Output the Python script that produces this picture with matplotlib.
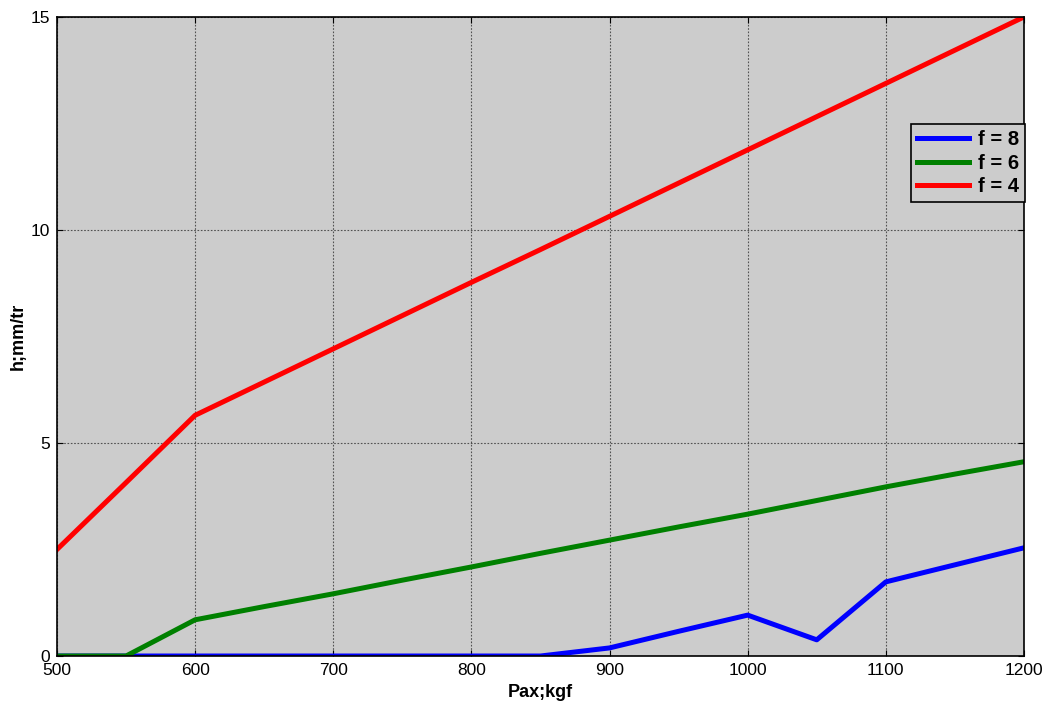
import numpy as np
import matplotlib.pyplot as plt

plt.rcParams['font.family'] = ['Liberation Sans', 'DejaVu Sans']

# axial load, kgf
pax = [500, 550, 600, 650, 700, 750, 800, 850, 900, 950, 1000, 1050, 1100, 1150, 1200]

# feed h (mm/rev) for each f
h_f8 = [0, 0, 0, 0, 0, 0, 0, 0, 0.19, 0.58, 0.96, 0.38, 1.74, 2.14, 2.54]
h_f6 = [0, 0, 0.85, 1.16, 1.46, 1.78, 2.09, 2.41, 2.72, 3.03, 3.33, 3.65, 3.97, 4.27, 4.56]
h_f4 = [2.5, 4.07, 5.65, 6.43, 7.21, 7.99, 8.77, 9.54, 10.32, 11.10, 11.88, 12.66, 13.44, 14.22, 15.0]

fig = plt.figure(figsize=(10.47, 7.06), dpi=100)
ax = fig.add_axes([0.0544, 0.0708, 0.9236, 0.9052])
ax.set_facecolor('#cccccc')

ax.plot(pax, h_f8, color='#0000ff', lw=3.6, label='f = 8')
ax.plot(pax, h_f6, color='#008000', lw=3.6, label='f = 6')
ax.plot(pax, h_f4, color='#ff0000', lw=3.6, label='f = 4')

ax.set_xlim(500, 1200)
ax.set_ylim(0, 15)
ax.set_xticks(np.arange(500, 1201, 100))
ax.set_yticks([0, 5, 10, 15])
ax.grid(True, color='#333333', linestyle=(0, (1.5, 1.5)), linewidth=0.8, alpha=0.8)
ax.tick_params(direction='in', length=4, labelsize=12.5, top=True, right=True)
ax.tick_params(axis='x', pad=5)
ax.tick_params(axis='y', pad=5)
for s in ax.spines.values():
    s.set_linewidth(1.2)

ax.set_xlabel('Pax;kgf', fontsize=13, fontweight='bold', labelpad=4)
ax.set_ylabel('h;mm/tr', fontsize=13, fontweight='bold', labelpad=3)

leg = ax.legend(loc='upper right', bbox_to_anchor=(1.0015, 0.832),
                prop={'weight': 'bold', 'size': 14.5}, fancybox=False,
                framealpha=1, handlelength=2.6, handletextpad=0.45,
                borderpad=0.3, labelspacing=0.22, borderaxespad=0)
leg.get_frame().set_facecolor('#cccccc')
leg.get_frame().set_edgecolor('black')
leg.get_frame().set_linewidth(1.2)

fig.savefig('out.png', dpi=100)
